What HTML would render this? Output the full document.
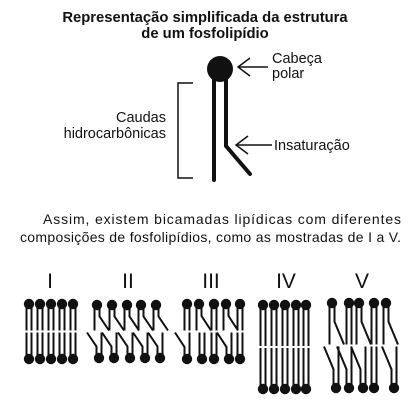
<!DOCTYPE html><html><head><style>
body{margin:0;background:#fff;width:410px;height:409px;overflow:hidden}
svg{display:block}
text{font-family:"Liberation Sans",sans-serif;fill:#111}
</style></head><body>
<svg id="s" width="410" height="409" viewBox="0 0 410 409">
<text x="205" y="22" font-size="14.8" font-weight="bold" text-anchor="middle">Representação simplificada da estrutura</text>
<text x="205" y="38" font-size="14.8" font-weight="bold" text-anchor="middle">de um fosfolipídio</text>
<circle cx="220" cy="69" r="13" fill="#111"/>
<g stroke="#111" stroke-width="4" fill="none" stroke-linecap="round">
<line x1="214" y1="78" x2="214" y2="180"/>
<path d="M226 78 V146 L250 174"/>
</g>
<g stroke="#111" stroke-width="1.5" fill="none">
<path d="M193 83 H178 V178 H193"/>
<line x1="238" y1="67" x2="268" y2="67"/><path d="M250 58 L238 67 L250 76"/>
<line x1="236" y1="145" x2="272" y2="145"/><path d="M248 136 L236 145 L248 154"/>
</g>
<text x="272" y="63" font-size="14.5">Cabeça</text>
<text x="272" y="78" font-size="14.5">polar</text>
<text x="274" y="150" font-size="14.5">Insaturação</text>
<text x="166" y="122" font-size="14.5" text-anchor="end">Caudas</text>
<text x="166" y="138" font-size="14.5" text-anchor="end">hidrocarbônicas</text>
<text x="43" y="224" font-size="14" textLength="358" lengthAdjust="spacing">Assim, existem bicamadas lipídicas com diferentes</text>
<text x="20" y="242" font-size="14" textLength="381" lengthAdjust="spacing">composições de fosfolipídios, como as mostradas de I a V.</text>
<g font-size="21" text-anchor="middle"><text x="50" y="288">I</text><text x="128" y="288">II</text><text x="211" y="288">III</text><text x="286" y="288">IV</text><text x="362" y="288">V</text></g>
<g id="L" stroke="#111" stroke-width="2" fill="none"></g>
<g id="H" fill="#111"></g>
</svg>
<script>
var L=document.getElementById('L'),H=document.getElementById('H'),o='',h='';
function lip(x,yh,ye,top,u){
 h+='<circle cx="'+x+'" cy="'+yh+'" r="5.2"/>';
 if(top){
  o+='<line x1="'+(x-2.5)+'" y1="'+yh+'" x2="'+(x-2.5)+'" y2="'+ye+'"/>';
  if(u){var k=yh+(ye-yh)*0.45;o+='<path d="M'+(x+2.5)+' '+yh+' V'+k+' L'+(x+12)+' '+ye+'"/>';}
  else o+='<line x1="'+(x+2.5)+'" y1="'+yh+'" x2="'+(x+2.5)+'" y2="'+ye+'"/>';
 }else{
  o+='<line x1="'+(x+2.5)+'" y1="'+yh+'" x2="'+(x+2.5)+'" y2="'+ye+'"/>';
  if(u){var k=yh-(yh-ye)*0.45;o+='<path d="M'+(x-2.5)+' '+yh+' V'+k+' L'+(x-12)+' '+ye+'"/>';}
  else o+='<line x1="'+(x-2.5)+'" y1="'+yh+'" x2="'+(x-2.5)+'" y2="'+ye+'"/>';
 }
}
function bl(tx,tu,bx,bu,yt,yb){var m=(yt+yb)/2;
 for(var i=0;i<5;i++){lip(tx[i],yt,m-1,true,tu[i]);lip(bx[i],yb,m+1,false,bu[i]);}}
bl([29,40,51,62,73],[0,0,0,0,0],[29,40,51,62,73],[0,0,0,0,0],304,359);
bl([97,112,127,141,156],[1,1,1,1,1],[99,114,130,145,160],[1,1,1,1,1],305,358);
bl([187,199,214,226,240],[0,1,0,1,0],[187,202,214,229,240],[1,0,0,1,0],304,359);
bl([263,274,285,296,306],[0,0,0,0,0],[263,274,285,296,306],[0,0,0,0,0],305,389);
bl([332,349,359,374,386],[1,0,1,0,1],[336,349,363,374,394],[1,1,1,0,1],303,388);
L.innerHTML=o;H.innerHTML=h;
</script>
</body></html>
